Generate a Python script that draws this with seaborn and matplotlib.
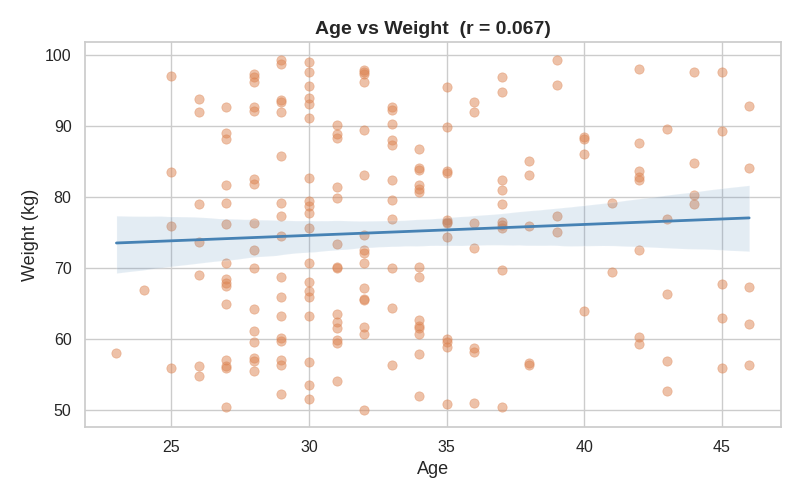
import seaborn as sns
import pandas as pd
import matplotlib.pyplot as plt
import numpy as np

# values, one line per age
age = (
    [23]
    + [24]
    + [25] * 4
    + [26] * 7
    + [27] * 15
    + [28] * 16
    + [29] * 17
    + [30] * 19
    + [31] * 14
    + [32] * 16
    + [33] * 11
    + [34] * 14
    + [35] * 12
    + [36] * 7
    + [37] * 10
    + [38] * 5
    + [39] * 4
    + [40] * 4
    + [41] * 2
    + [42] * 8
    + [43] * 5
    + [44] * 4
    + [45] * 5
    + [46] * 5
)
weight = [
    58.0,
    67.0,
    97.1, 83.5, 76.0, 56.0,
    93.8, 92.0, 79.0, 73.7, 69.1, 56.2, 54.8,
    92.7, 89.0, 88.2, 81.7, 79.2, 76.2, 70.8, 68.5, 67.9, 67.5, 64.9, 57.1, 56.2, 56.0, 50.4,
    97.3, 97.0, 96.3, 92.7, 92.1, 82.5, 81.8, 76.4, 72.5, 70.1, 64.2, 61.2, 59.6, 57.3, 57.0, 55.5,
    99.4, 98.7, 93.7, 93.4, 92.0, 85.8, 79.2, 77.4, 74.6, 68.7, 65.9, 63.2, 60.2, 59.8, 57.1, 56.3, 52.3,
    99.1, 97.6, 95.6, 94.0, 93.1, 91.1, 82.7, 79.5, 78.7, 77.8, 75.7, 70.8, 68.0, 66.8, 66.0, 63.3, 56.8, 53.6, 51.6,
    90.2, 88.9, 88.4, 81.5, 79.9, 73.4, 70.2, 70.0, 63.6, 62.4, 61.6, 59.9, 59.5, 54.1,
    97.9, 97.6, 97.3, 96.2, 89.4, 83.1, 74.7, 72.6, 72.1, 70.8, 67.2, 65.7, 65.5, 61.7, 60.7, 50.1,
    92.7, 92.3, 90.3, 88.1, 87.4, 82.4, 79.6, 76.9, 70.0, 64.4, 56.4,
    86.8, 84.1, 83.9, 81.7, 81.1, 80.8, 70.2, 68.8, 62.7, 61.8, 61.6, 60.7, 57.9, 52.0,
    95.5, 89.9, 83.7, 83.4, 76.8, 76.5, 76.4, 74.4, 60.1, 59.6, 58.9, 50.9,
    93.4, 92.0, 76.3, 72.9, 58.8, 58.2, 51.0,
    96.9, 94.8, 82.4, 81.0, 79.0, 76.5, 76.1, 75.6, 69.8, 50.5,
    85.1, 83.1, 76.0, 56.6, 56.4,
    99.3, 95.8, 77.4, 75.1,
    88.5, 88.2, 86.1, 64.0,
    79.2, 69.5,
    98.1, 87.6, 83.7, 82.9, 82.4, 72.5, 60.3, 59.3,
    89.6, 76.9, 66.4, 57.0, 52.7,
    97.7, 84.8, 80.3, 79.0,
    97.6, 89.3, 67.8, 63.0, 56.0,
    92.8, 84.1, 67.3, 62.1, 56.3,
]

df = pd.DataFrame({'Age': age, 'Weight': weight})

sns.set_theme(style='whitegrid')
plt.rcParams['font.family'] = ['Liberation Sans', 'DejaVu Sans']

fig, ax = plt.subplots(figsize=(8, 5), dpi=100)
sns.regplot(
    data=df, x='Age', y='Weight', ax=ax,
    color='#4682b4',
    scatter_kws={'color': '#dd8452', 'alpha': 0.5, 's': 45, 'edgecolor': '#dd8452', 'linewidths': 0.5},
    line_kws={'linewidth': 2},
)
for s in ax.spines.values():
    s.set_edgecolor('#cccccc')

ax.set_title('Age vs Weight  (r = 0.067)', fontsize=14, fontweight='bold')
ax.set_xlabel('Age', fontsize=13)
ax.set_ylabel('Weight (kg)', fontsize=13)
ax.tick_params(labelsize=11.5)

plt.subplots_adjust(left=0.106, right=0.976, top=0.916, bottom=0.146)
plt.savefig('out.png', dpi=100)
